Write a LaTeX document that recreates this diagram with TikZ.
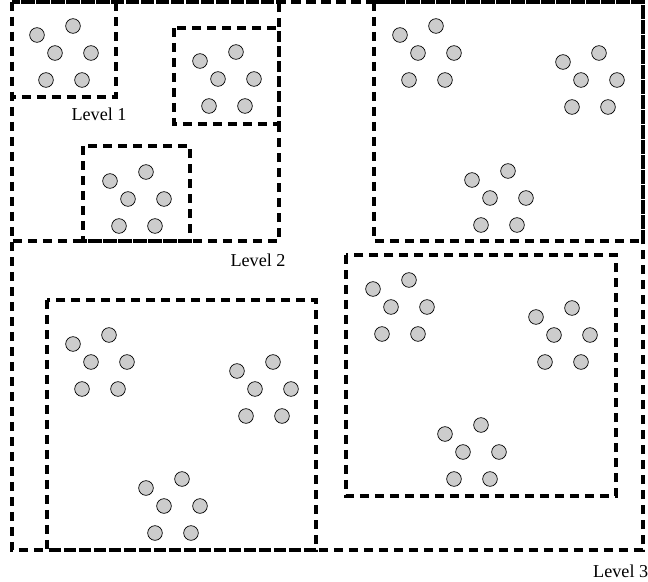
\documentclass[tikz,border=0pt]{standalone}
\usepackage{fontspec}
\setmainfont{Liberation Serif}
\usepackage{tikz}
\usetikzlibrary{positioning}

\begin{document}
\begin{tikzpicture}[
  x=0.03cm, y=-0.03cm,
  lvlbox/.style={draw,line width=2.6pt,dash pattern=on 8pt off 4.8pt},
  pt/.style={draw,circle,fill=gray!40,line width=0.6pt,minimum size=0.44cm,inner sep=0pt},
  lvltext/.style={font=\fontsize{15.5}{18}\selectfont}
]
\useasboundingbox (0,0) rectangle (648,581);

% level 3
\draw[lvlbox] (12,2) rectangle (643,550);
% level 2
\draw[lvlbox] (12,2) rectangle (279,241);
\draw[lvlbox] (374,2) rectangle (643,241);
\draw[lvlbox] (47,300) rectangle (316,550);
\draw[lvlbox] (346,255) rectangle (616,496);
% level 1
\draw[lvlbox] (12,2) rectangle (116,97);
\draw[lvlbox] (174,28) rectangle (279,124);
\draw[lvlbox] (83,146) rectangle (190,241);

% clusters of points (top point of each)
\foreach \cx/\cy [count=\c] in {73/26,236/52,146/172,436/26,599/53,508/171,
                                 109/335,273/362,182/479,409/280,572/308,481/425}
  \foreach \dx/\dy [count=\p] in {0/0,-36/9,-18/27,18/27,-27/54,9/54}
    \node[pt] (p\c-\p) at (\cx+\dx,\cy+\dy) {};

\node[lvltext] (lv1) at (99,114) {Level 1};
\node[lvltext] (lv2) at (258,260) {Level 2};
\node[lvltext,anchor=west,inner sep=0pt] (lv3) at (593,571) {Level 3};
\end{tikzpicture}
\end{document}
